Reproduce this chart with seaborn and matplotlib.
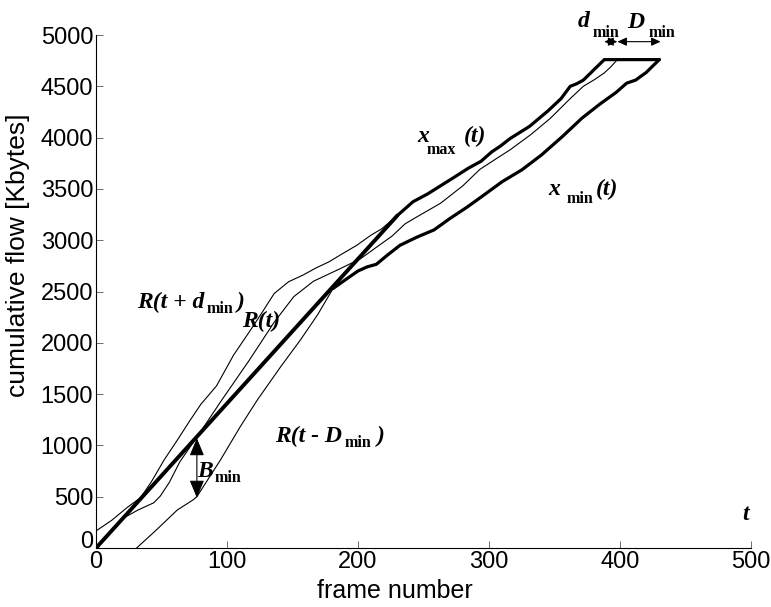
import numpy as np
import pandas as pd
import matplotlib
matplotlib.use("Agg")
import matplotlib.pyplot as plt
import seaborn as sns

# curve R(t + d_min), thin
rplus_t = [0, 12, 24, 34, 42, 52, 62, 72, 80, 92, 105, 118, 127, 136, 147, 158, 168, 178, 187, 199, 210, 218, 230]
rplus_y = [166, 270, 397, 490, 640, 858, 1050, 1248, 1400, 1580, 1880, 2125, 2300, 2480, 2595, 2660, 2730, 2790, 2860, 2950, 3050, 3110, 3240]

# curve R(t), thin
r_t = [0, 10, 21, 32, 44, 49, 56, 64, 79, 96, 117, 136, 151, 166, 186, 202, 215, 226, 236, 248, 263, 280,
       293, 305, 316, 332, 347, 362, 372, 380, 388, 393, 398]
r_y = [0, 140, 292, 370, 440, 505, 640, 840, 1118, 1442, 1830, 2200, 2450, 2600, 2720, 2820, 2940, 3040, 3160, 3250, 3360, 3530,
       3690, 3790, 3880, 4030, 4190, 4380, 4500, 4561, 4630, 4690, 4760]

# curve R(t - D_min), thin
rminus_t = [31, 46, 62, 74, 77, 95, 110, 123, 141, 156, 169, 181]
rminus_y = [0, 175, 370, 468, 500, 858, 1180, 1440, 1767, 2027, 2270, 2530]

# transmission schedule (straight part), thick
sched_t = [0, 230]
sched_y = [0, 3240]

# x_max(t), thick, ends with the flat top
xmax_t = [230, 242, 253, 263, 273, 284, 294, 302, 309, 316, 331, 345, 355, 362, 367, 372, 380, 388, 430]
xmax_y = [3240, 3375, 3450, 3530, 3610, 3700, 3770, 3860, 3920, 3990, 4110, 4260, 4380, 4500, 4525, 4560, 4660, 4760, 4760]

# x_min(t), thick
xmin_t = [181, 191, 200, 207, 214, 222, 232, 245, 258, 270, 283, 295, 310, 325, 340, 356, 371, 385, 397, 405, 412, 420, 430]
xmin_y = [2530, 2620, 2700, 2740, 2765, 2850, 2950, 3030, 3100, 3210, 3320, 3430, 3570, 3685, 3830, 4010, 4190, 4330, 4440, 4530, 4561, 4635, 4760]

# arrows
bmin_t = 77
bmin_lo, bmin_hi = 490, 1070
arrow_top_y = 4935
dmin_from, dmin_to = 388, 398
Dmin_from, Dmin_to = 398, 431

x_ticks = [0, 100, 200, 300, 400, 500]
y_ticks = [0, 500, 1000, 1500, 2000, 2500, 3000, 3500, 4000, 4500, 5000]

sns.set_style("white")
plt.rcParams['font.family'] = ['Liberation Sans', 'DejaVu Sans']
plt.rcParams['text.color'] = 'black'
plt.rcParams['axes.labelcolor'] = 'black'
plt.rcParams['xtick.color'] = 'black'
plt.rcParams['ytick.color'] = 'black'

fig = plt.figure(figsize=(7.71, 6.07), dpi=100)
ax = fig.add_axes([96/771, 59/607, 655/771, 513/607])

thin = dict(color='black', lw=0.8, estimator=None, sort=False, ax=ax, legend=False)
thick = dict(color='black', lw=2.3, estimator=None, sort=False, ax=ax, legend=False)

sns.lineplot(x=rplus_t, y=rplus_y, **thin)
sns.lineplot(x=r_t, y=r_y, **thin)
sns.lineplot(x=rminus_t, y=rminus_y, **thin)
sns.lineplot(x=sched_t, y=sched_y, color='black', lw=2.8, estimator=None, sort=False, ax=ax, legend=False)
sns.lineplot(x=xmax_t, y=xmax_y, **thick)
sns.lineplot(x=xmin_t, y=xmin_y, **thick)

# double arrows
ax.annotate('', xy=(bmin_t, bmin_lo), xytext=(bmin_t, bmin_hi),
            arrowprops=dict(arrowstyle='<|-|>,head_length=0.6,head_width=0.25', color='black',
                            lw=0.8, shrinkA=0, shrinkB=0, mutation_scale=18))
for a, b in [(dmin_from, dmin_to), (Dmin_from, Dmin_to)]:
    ax.annotate('', xy=(a, arrow_top_y), xytext=(b, arrow_top_y), annotation_clip=False,
                arrowprops=dict(arrowstyle='<|-|>,head_length=0.55,head_width=0.25', color='black',
                                lw=0.8, shrinkA=0, shrinkB=0, mutation_scale=10))

big = dict(fontfamily='Liberation Serif', fontsize=17, fontweight='bold', fontstyle='italic',
           va='baseline', ha='left', clip_on=False, color='black')
sub = dict(fontfamily='Liberation Serif', fontsize=11.5, fontweight='bold',
           va='baseline', ha='left', clip_on=False, color='black')

ax.text(367.5, 5078, 'd', **big)
ax.text(378.9, 4984, 'min', **sub)
ax.text(405.7, 5065, 'D', **big)
ax.text(421.7, 4984, 'min', **sub)

ax.text(245, 3960, 'x', **big)
ax.text(252.6, 3840, 'max', **sub)
ax.text(280.6, 3960, '(t)', **big)

ax.text(345.5, 3441, 'x', **big)
ax.text(359.6, 3360, 'min', **sub)
ax.text(381.2, 3441, '(t)', **big)

ax.text(31.1, 2336, 'R(t + d', **big)
ax.text(84.5, 2288, 'min', **sub)
ax.text(107.4, 2336, ')', **big)
ax.text(111.3, 2151, 'R(t)', **big)

ax.text(137, 1036, 'R(t - D', **big)
ax.text(189.5, 985, 'min', **sub)
ax.text(214, 1036, ')', **big)

ax.text(76.9, 692, 'B', **big)
ax.text(90.9, 643, 'min', **sub)

ax.text(493.2, 273, 't', **big)

ax.set_xlim(0, 500)
ax.set_ylim(0, 5000)
ax.set_xticks(x_ticks)
ax.set_yticks(y_ticks)
ax.tick_params(direction='in', length=5, width=0.6, color='#555555', labelcolor='black',
               labelsize=17, pad=2, left=True, bottom=True)
ax.get_yticklabels()[0].set_va('baseline')
ax.set_xlabel('frame number', fontsize=18, color='black')
ax.set_ylabel('cumulative flow [Kbytes]', fontsize=19, color='black')
ax.xaxis.set_label_coords(0.456, -0.06)
ax.yaxis.set_label_coords(-0.1, 0.57)
sns.despine(ax=ax)
for s in ['left', 'bottom']:
    ax.spines[s].set_linewidth(0.8)
    ax.spines[s].set_color('black')

fig.savefig('out.png', dpi=100)
